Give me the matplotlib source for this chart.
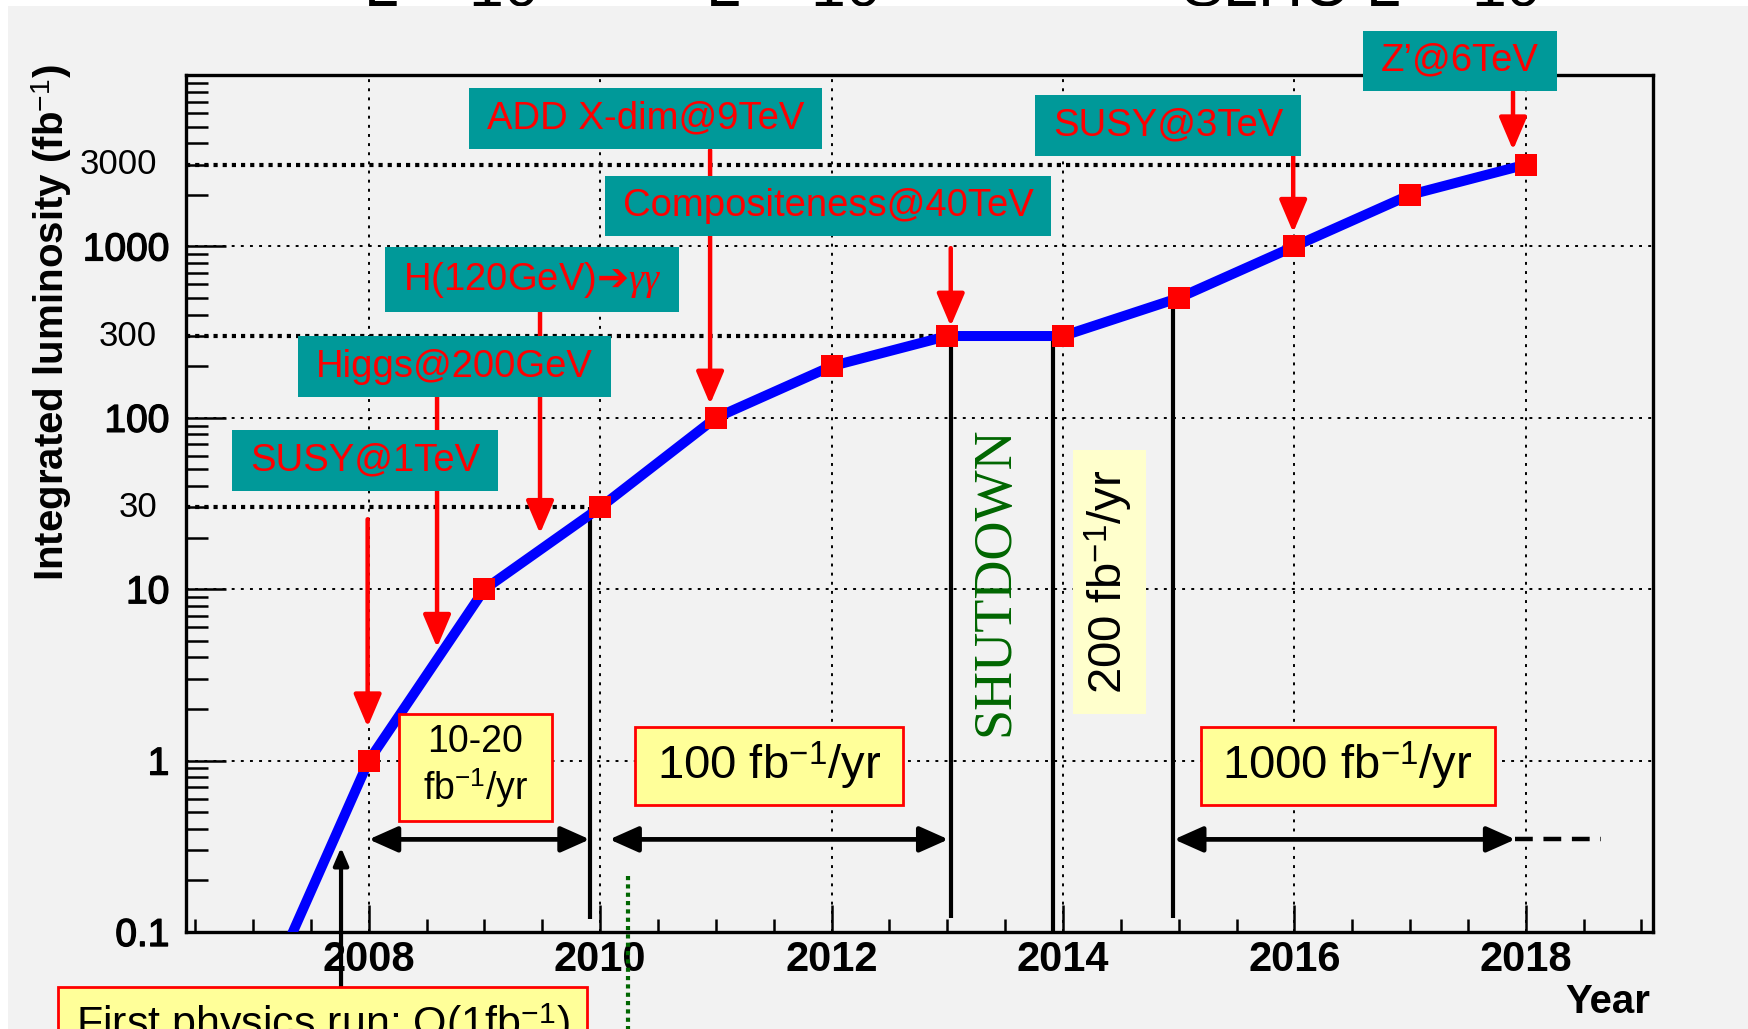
import matplotlib
matplotlib.use('Agg')
import matplotlib.pyplot as plt
import matplotlib.patheffects as pe
from matplotlib.patches import Rectangle
from matplotlib.path import Path
from matplotlib.ticker import FixedLocator, MultipleLocator, LogLocator, NullFormatter

plt.rcParams['font.family'] = ['Liberation Sans', 'DejaVu Sans']
plt.rcParams['mathtext.fontset'] = 'custom'
plt.rcParams['mathtext.rm'] = 'Liberation Sans'
plt.rcParams['mathtext.it'] = 'Liberation Serif:italic'
plt.rcParams['mathtext.bf'] = 'Liberation Sans:bold'
plt.rcParams['mathtext.sf'] = 'DejaVu Sans'

# integrated luminosity per year (fb^-1)
years = [2008, 2009, 2010, 2011, 2012, 2013, 2014, 2015, 2016, 2017, 2018]
lumi = [1, 10, 30, 100, 200, 300, 300, 500, 1000, 2000, 3000]
# the curve comes in from below the frame
curve_start = (2007.28, 0.08)

x_ticks = [2008, 2010, 2012, 2014, 2016, 2018]
y_ticks = [0.1, 1, 10, 100, 1000]
y_tick_labels = ['0.1', '1', '10', '100', '1000']
y_extra = [30, 300, 3000]
y_extra_labels = ['30', '300', '3000']
y_extra_end = [2010, 2013, 2018]

# physics reach (teal boxes with red arrows)
reach_labels = ['SUSY@1TeV', 'Higgs@200GeV', 'H(120GeV)$\\mathsf{\u2794}\\gamma\\gamma$',
                'ADD X-dim@9TeV', 'Compositeness@40TeV', 'SUSY@3TeV', 'Z\u2019@6TeV']
reach_arrow_x = [2007.99, 2008.59, 2009.48, 2010.95, 2013.03, 2015.99, 2017.89]
reach_arrow_from = [25.6, 135, 423, 3650, 977, 3390, 7960]
reach_arrow_to = [1.57, 4.57, 21.1, 120, 342, 1205, 3650]
reach_box_x = [2007.97, 2008.74, 2009.41, 2010.39, 2011.97, 2014.91, 2017.43]
reach_box_y = [56.2, 199, 641, 5560, 1725, 5080, 12100]

# yearly rates (yellow boxes)
rate_labels = ['10-20\nfb$^{-1}$/yr', '100 fb$^{-1}$/yr', '1000 fb$^{-1}$/yr']
rate_x = [2008.92, 2011.46, 2016.46]
rate_y = [0.92, 0.929, 0.929]
rate_size = [27, 34, 34]

# running periods (double arrows) and separators
period_start = [2008.0, 2010.08, 2014.96]
period_end = [2009.91, 2013.01, 2017.91]
period_y = 0.347
period_dash_end = 2018.65
sep_x = [2009.91, 2013.03, 2013.91, 2014.95]
sep_top = [30, 300, 300, 500]
sep_bottom = [0.119, 0.12, 0.1, 0.12]

BG = '#f2f2f2'
TEAL = '#009999'
YELLOW = '#ffff99'


def pad_box(padx, pady):
    def style(x0, y0, width, height, mutation_size):
        px, py = padx * mutation_size, pady * mutation_size
        xa, xb = x0 - px, x0 + width + px
        ya, yb = y0 - py, y0 + height + py
        return Path([(xa, ya), (xb, ya), (xb, yb), (xa, yb), (xa, ya)],
                    [Path.MOVETO, Path.LINETO, Path.LINETO, Path.LINETO, Path.CLOSEPOLY])
    return style


fig = plt.figure(figsize=(17.49, 10.29), dpi=100, facecolor='white')
fig.add_artist(Rectangle((8 / 1749, 0), 1 - 8 / 1749, 1 - 6 / 1029, transform=fig.transFigure,
                         facecolor=BG, edgecolor='none', zorder=-1))

# luminosity labels cut at the top of the slide
for xp, txt in [(363, 'L = 10$^{33}$'), (705, 'L = 10$^{34}$'), (1181, 'SLHC L = 10$^{35}$')]:
    fig.text(xp / 1749, 1 - 6 / 1029, txt, fontsize=45, va='baseline', ha='left', zorder=-2)

ax = fig.add_axes([186 / 1749, 1 - 932 / 1029, (1653 - 186) / 1749, (932 - 75) / 1029])
ax.set_facecolor('none')
ax.set_yscale('log')
ax.set_xlim(2006.42, 2019.10)
ax.set_ylim(0.1, 10000)
ax.set_axisbelow(True)

for s in ax.spines.values():
    s.set_linewidth(2.4)

ax.xaxis.set_major_locator(FixedLocator(x_ticks))
ax.set_xticklabels([str(y) for y in x_ticks])
ax.xaxis.set_minor_locator(MultipleLocator(0.5))
ax.yaxis.set_major_locator(FixedLocator(y_ticks))
ax.set_yticklabels(y_tick_labels)
ax.yaxis.set_minor_locator(LogLocator(base=10, subs=range(2, 10), numticks=50))
ax.yaxis.set_minor_formatter(NullFormatter())

ax.tick_params(axis='x', which='major', direction='in', length=19.5, width=1.8, pad=6, labelsize=30)
ax.tick_params(axis='x', which='minor', direction='in', length=9.5, width=1.8)
ax.tick_params(axis='y', which='major', direction='in', length=29, width=1.8, pad=12, labelsize=28)
ax.tick_params(axis='y', which='minor', direction='in', length=16, width=1.8)
for lbl in ax.get_xticklabels():
    lbl.set_fontweight('bold')
for lbl in ax.get_yticklabels():
    lbl.set_path_effects([pe.withStroke(linewidth=1.0, foreground='black')])

ax.grid(True, which='major', color='black', lw=1.4, ls=(0, (1.5, 3.2)))

# extra y labels and heavy dotted guides
x_left = ax.get_xlim()[0]
for v, lab, xe in zip(y_extra, y_extra_labels, y_extra_end):
    ax.text(-0.0198, v, lab, transform=ax.get_yaxis_transform(), ha='right', va='center', fontsize=25)
    ax.plot([x_left, xe], [v, v], color='black', lw=3, ls=(0, (1, 1.2)), zorder=2, clip_on=False)

# separators
for xs, yt, yb in zip(sep_x, sep_top, sep_bottom):
    ax.plot([xs, xs], [yb, yt], color='black', lw=3, solid_capstyle='butt', zorder=2)

# curve and points
ax.plot([curve_start[0]] + years, [curve_start[1]] + lumi, color='#0000ff', lw=7.2,
        solid_capstyle='butt', zorder=3)
ax.plot(years, lumi, ls='none', marker='s', ms=16, color='#ff0000', mew=0, zorder=4)

# period arrows
for xa, xb in zip(period_start, period_end):
    ax.annotate('', xy=(xb, period_y), xytext=(xa, period_y),
                arrowprops=dict(arrowstyle='<|-|>,head_length=1.75,head_width=0.78', color='black',
                                lw=3.4, shrinkA=0, shrinkB=0, mutation_scale=10), zorder=5)
ax.plot([period_end[-1], period_dash_end], [period_y, period_y], color='black', lw=3.2,
        ls=(0, (4, 2.4)), zorder=5)

# green dotted marker
ax.plot([2010.24, 2010.24], [0.211, 0.02], color='#006600', lw=3, ls=(0, (1, 1)), clip_on=False, zorder=2)

# physics reach boxes
for lab, bx, by in zip(reach_labels, reach_box_x, reach_box_y):
    ax.text(bx, by, lab, ha='center', va='center', fontsize=27.5, color='#ff0000', zorder=7,
            bbox=dict(boxstyle=pad_box(0.47, 0.32), facecolor=TEAL, edgecolor='none'))
for xa, yf, yt in zip(reach_arrow_x, reach_arrow_from, reach_arrow_to):
    ax.annotate('', xy=(xa, yt), xytext=(xa, yf), annotation_clip=False,
                arrowprops=dict(arrowstyle='-|>,head_length=2.0,head_width=0.85', color='#ff0000',
                                lw=3.2, shrinkA=0, shrinkB=0, mutation_scale=10, clip_on=False), zorder=6)

# rate boxes
for lab, rx, ry, fs in zip(rate_labels, rate_x, rate_y, rate_size):
    padx = 0.64 if '\n' in lab else 0.46
    pady = 0.3 if '\n' in lab else 0.27
    ax.text(rx, ry, lab, ha='center', va='center', fontsize=fs, color='black', zorder=7,
            bbox=dict(boxstyle=pad_box(padx, pady), facecolor=YELLOW, edgecolor='#ff0000', lw=2))

ax.text(2014.40, 11.0, '200 fb$^{-1}$/yr', rotation=90, ha='center', va='center', fontsize=34,
        zorder=7, bbox=dict(boxstyle=pad_box(0.42, 0.22), facecolor='#ffffcc', edgecolor='none'))
ax.text(2013.41, 11.2, 'SHUTDOWN', rotation=90, ha='center', va='center', fontsize=39,
        family='Liberation Serif', color='#006600', zorder=7)

# first physics run
ax.annotate('', xy=(2007.76, 0.311), xytext=(2007.76, 0.04), annotation_clip=False,
            arrowprops=dict(arrowstyle='-|>,head_length=1.05,head_width=0.45', color='black',
                            lw=3, shrinkA=0, shrinkB=0, mutation_scale=10, clip_on=False), zorder=5)
ax.text(2007.60, 0.0245, 'First physics run: O(1fb$^{-1}$)', ha='center', va='baseline', fontsize=31,
        zorder=7, bbox=dict(boxstyle=pad_box(0.42, 0.33), facecolor=YELLOW, edgecolor='#ff0000', lw=2))

fig.text(51.3 / 1749, 1 - 323 / 1029, 'Integrated luminosity (fb$^{-1}$)', rotation=90,
         ha='center', va='center', fontsize=29, fontweight='bold')
fig.text(1650 / 1749, 1 - 1013 / 1029, 'Year', ha='right', va='baseline', fontsize=29, fontweight='bold')

fig.savefig('out.png', dpi=100)
